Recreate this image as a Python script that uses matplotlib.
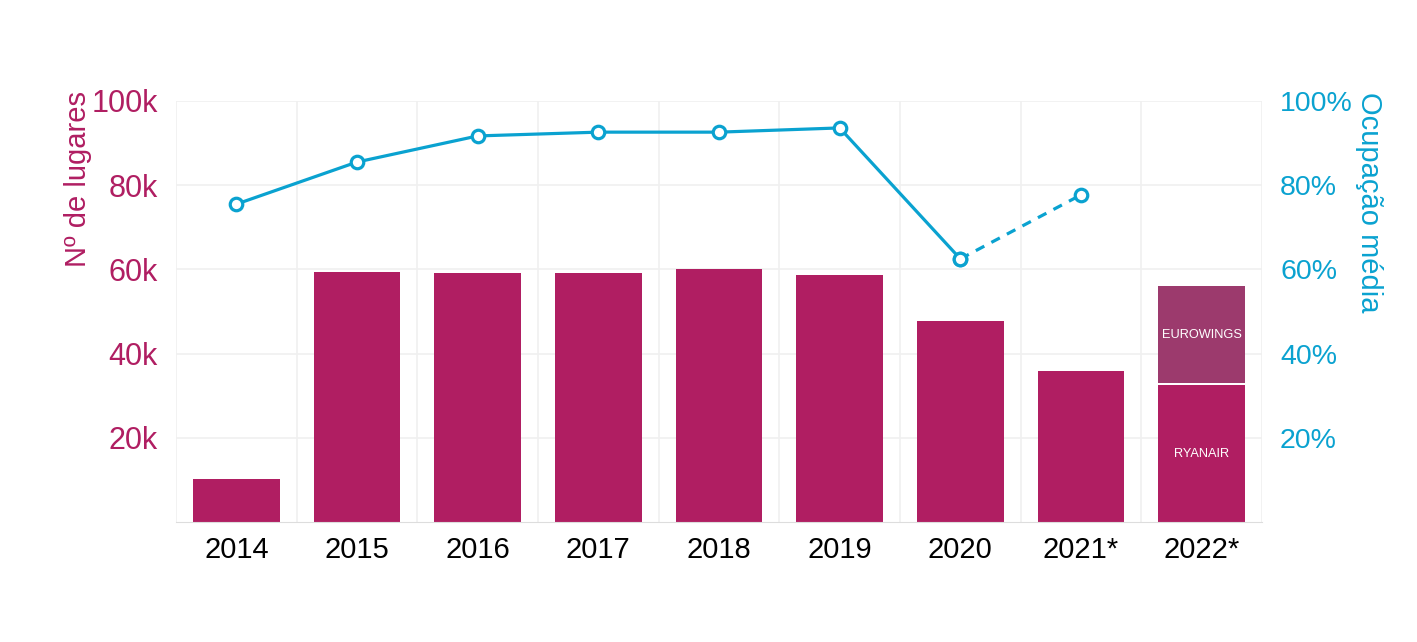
import matplotlib.pyplot as plt

plt.rcParams['font.family'] = ['Liberation Sans', 'DejaVu Sans']

# dados
anos = ['2014', '2015', '2016', '2017', '2018', '2019', '2020', '2021*', '2022*']
lugares = [10.2, 59.4, 59.1, 59.2, 60.1, 58.7, 47.7, 35.9, 32.5]  # milhares (Ryanair em 2022)
eurowings_2022 = 23.1
ocupacao = [75.5, 85.5, 91.7, 92.6, 92.6, 93.6, 62.5, 77.7]  # %

cor_bar = '#b01e62'
cor_euro = '#9c3a6d'
cor_linha = '#0aa2d0'

fig = plt.figure(figsize=(14.17, 6.42), dpi=100)
ax = fig.add_axes([0.1242, 0.1869, 0.7664, 0.6558])
x = list(range(len(anos)))

ax.bar(x, lugares, width=0.72, color=cor_bar, zorder=2)
ax.bar(x[-1], eurowings_2022, bottom=lugares[-1] + 0.4, width=0.72, color=cor_euro, zorder=2)
ax.text(x[-1], lugares[-1] / 2, 'RYANAIR', ha='center', va='center', color='white', fontsize=9.2, zorder=3)
ax.text(x[-1], lugares[-1] + 0.4 + eurowings_2022 / 2, 'EUROWINGS', ha='center', va='center',
        color='white', fontsize=9.2, zorder=3)

ax.set_xlim(-0.5, 8.5)
ax.set_ylim(0, 100)
ax.set_yticks([20, 40, 60, 80, 100])
ax.set_yticklabels(['20k', '40k', '60k', '80k', '100k'])
ax.set_xticks(x)
ax.set_xticklabels(anos)
ax.set_xticks([i - 0.5 for i in range(len(anos) + 1)], minor=True)
ax.grid(True, axis='y', color='#f0f0f0', linewidth=1.2, zorder=0)
ax.grid(True, axis='x', which='minor', color='#f0f0f0', linewidth=1.2, zorder=0)
ax.tick_params(axis='both', which='both', length=0)
ax.tick_params(axis='y', labelsize=22, labelcolor=cor_bar, pad=13)
ax.tick_params(axis='x', labelsize=21, labelcolor='black', pad=10)
for s in ['top', 'right', 'left']:
    ax.spines[s].set_visible(False)
ax.spines['bottom'].set_color('#dddddd')
ax.set_ylabel('Nº de lugares', fontsize=21, color=cor_bar)
ax.yaxis.set_label_coords(-0.077, 0.815)

ax2 = ax.twinx()
ax2.set_ylim(0, 100)
ax2.set_yticks([20, 40, 60, 80, 100])
ax2.set_yticklabels(['20%', '40%', '60%', '80%', '100%'])
ax2.tick_params(axis='y', length=0, labelsize=20.5, labelcolor=cor_linha, pad=13)
for s in ax2.spines.values():
    s.set_visible(False)
ax2.set_ylabel('Ocupação média', fontsize=21, color=cor_linha, rotation=270)
ax2.yaxis.set_label_coords(1.111, 0.76)

ax2.plot(x[:7], ocupacao[:7], color=cor_linha, linewidth=2.3, marker='o', markersize=9,
         markerfacecolor='white', markeredgewidth=2.3, zorder=3)
ax2.plot(x[6:8], ocupacao[6:8], color=cor_linha, linewidth=2.3, linestyle=(0, (3, 2.5)), marker='o',
         markersize=9, markerfacecolor='white', markeredgewidth=2.3, zorder=3)

fig.savefig('out.png', dpi=100)
